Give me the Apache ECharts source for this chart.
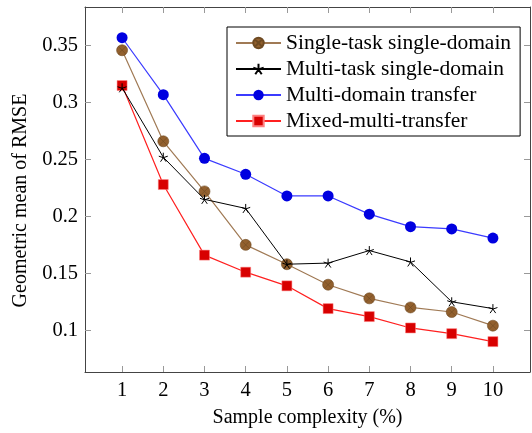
<!DOCTYPE html>
<html>
<head>
<meta charset="utf-8">
<script src="https://cdn.jsdelivr.net/npm/echarts@6/dist/echarts.min.js"></script>
<style>
  html, body { margin: 0; padding: 0; background: #fff; }
  #chart { width: 532px; height: 433px; }
</style>
</head>
<body>
<div id="chart"></div>
<script>
// sample complexity (%)
const samples = [1, 2, 3, 4, 5, 6, 7, 8, 9, 10]
const singleTask = [0.346, 0.266, 0.222, 0.175, 0.158, 0.140, 0.128, 0.120, 0.116, 0.104]
const multiTask = [0.313, 0.252, 0.215, 0.207, 0.158, 0.159, 0.170, 0.160, 0.125, 0.119]
const multiDomain = [0.357, 0.307, 0.251, 0.237, 0.218, 0.218, 0.202, 0.191, 0.189, 0.181]
const mixedMulti = [0.315, 0.228, 0.166, 0.151, 0.139, 0.119, 0.112, 0.102, 0.097, 0.090]
const xTicks = [1, 2, 3, 4, 5, 6, 7, 8, 9, 10]
const yTicks = [0.1, 0.15, 0.2, 0.25, 0.3, 0.35]

const font = 'Liberation Serif'
const pair = arr => samples.map((x, i) => [x, arr[i]])

// otimes marker and 5 spoke star
const otimes = 'path://M-10,0 A10,10 0 1,0 10,0 A10,10 0 1,0 -10,0 Z M-7.07,-7.07 L7.07,7.07 M-7.07,7.07 L7.07,-7.07'
const star = 'path://M0,0 L0,-10 M0,0 L9.51,-3.09 M0,0 L-9.51,-3.09 M0,0 L-5.88,8.09 M0,0 L5.88,8.09'

const xRange = { min: 0.1, max: 10.9 }
const yRange = { min: 0.0633, max: 0.384 }

function baseAxis(extra) {
  return Object.assign({
    type: 'value',
    splitLine: { show: false },
    axisLine: { show: true, onZero: false, lineStyle: { color: '#444', width: 1 } },
    axisTick: { show: true, inside: true, length: 6, lineStyle: { color: '#999' } }
  }, extra)
}

const chart = echarts.init(document.getElementById('chart'))
chart.setOption({
  animation: false,
  grid: { left: 85, right: 2, top: 7, bottom: 57 },
  xAxis: [
    baseAxis(Object.assign({
      position: 'bottom',
      name: 'Sample complexity (%)',
      nameLocation: 'middle',
      nameGap: 36,
      nameTextStyle: { fontFamily: font, fontSize: 20, color: '#000' },
      axisTick: { show: true, inside: true, length: 6, lineStyle: { color: '#999' }, customValues: xTicks },
      axisLabel: { fontFamily: font, fontSize: 20.5, color: '#000', margin: 8, customValues: xTicks }
    }, xRange)),
    baseAxis(Object.assign({
      position: 'top',
      axisTick: { show: true, inside: true, length: 6, lineStyle: { color: '#999' }, customValues: xTicks },
      axisLabel: { show: false }
    }, xRange))
  ],
  yAxis: [
    baseAxis(Object.assign({
      position: 'left',
      name: 'Geometric mean of RMSE',
      nameLocation: 'middle',
      nameGap: 50,
      nameTextStyle: { fontFamily: font, fontSize: 20, color: '#000', padding: [0, 22, 0, 0] },
      axisTick: { show: true, inside: true, length: 6, lineStyle: { color: '#999' }, customValues: yTicks },
      axisLabel: {
        fontFamily: font, fontSize: 20.5, color: '#000', margin: 7, customValues: yTicks,
        formatter: v => String(+v.toFixed(2))
      }
    }, yRange)),
    baseAxis(Object.assign({
      position: 'right',
      axisTick: { show: true, inside: true, length: 6, lineStyle: { color: '#999' }, customValues: yTicks },
      axisLabel: { show: false }
    }, yRange))
  ],
  legend: {
    orient: 'vertical',
    left: 227,
    top: 27,
    padding: [5, 9, 4, 8],
    itemGap: 4,
    itemWidth: 45,
    itemHeight: 13,
    borderColor: '#000',
    borderWidth: 1,
    backgroundColor: '#fff',
    textStyle: { fontFamily: font, fontSize: 21.5, color: '#000', lineHeight: 22 },
    data: ['Single-task single-domain', 'Multi-task single-domain', 'Multi-domain transfer', 'Mixed-multi-transfer']
  },
  series: [
    {
      name: 'Single-task single-domain',
      type: 'line',
      data: pair(singleTask),
      symbol: otimes,
      symbolSize: 11,
      lineStyle: { color: '#a07a55', width: 1.2 },
      itemStyle: { color: '#92602e', borderColor: '#6e4a22', borderWidth: 0.6 },
      z: 2
    },
    {
      name: 'Multi-task single-domain',
      type: 'line',
      data: pair(multiTask),
      symbol: star,
      symbolSize: 9,
      lineStyle: { color: '#000', width: 1 },
      itemStyle: { color: '#000', borderColor: '#000', borderWidth: 1 },
      z: 5
    },
    {
      name: 'Multi-domain transfer',
      type: 'line',
      data: pair(multiDomain),
      symbol: 'circle',
      symbolSize: 11,
      lineStyle: { color: '#3b3bff', width: 1.2 },
      itemStyle: { color: '#0000e0', borderColor: '#0000e0', borderWidth: 0 },
      z: 3
    },
    {
      name: 'Mixed-multi-transfer',
      type: 'line',
      data: pair(mixedMulti),
      symbol: 'rect',
      symbolSize: 10,
      lineStyle: { color: '#ff2020', width: 1.2 },
      itemStyle: { color: '#d80000', borderColor: '#ff8080', borderWidth: 0.5 },
      z: 4
    }
  ]
})
</script>
</body>
</html>
